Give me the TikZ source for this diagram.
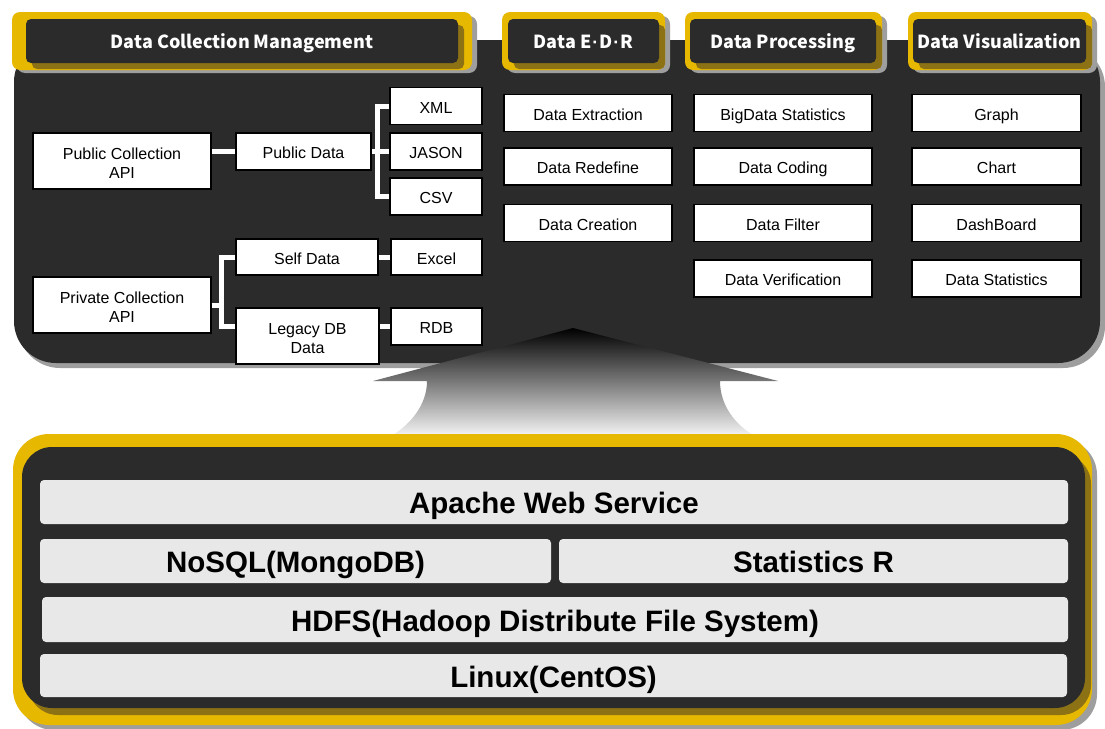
\documentclass[tikz,border=0pt]{standalone}
\usepackage{fontspec}
\setmainfont{Liberation Sans}
\newfontfamily\tabfont{Noto Sans CJK KR}
\newfontfamily\dotfont{Liberation Sans}
\usepackage{tikz}
\usetikzlibrary{calc,positioning}
\definecolor{panel}{HTML}{2B2B2B}
\definecolor{gold}{HTML}{E6B800}
\definecolor{olive}{HTML}{8C7214}
\definecolor{layer}{HTML}{E8E8E8}
\definecolor{panelshadow}{HTML}{9E9E9E}

\begin{document}
\begin{tikzpicture}[x=1pt,y=-1pt,
    box/.style={draw=black,line width=1.4pt,fill=white,inner sep=0pt,
      minimum width=#1,minimum height=37pt,align=center,
      text height=14.5pt,text depth=0pt,
      font=\fontsize{16}{19}\selectfont},
    box/.default=168,
    tall/.style={minimum height=56pt,text height=34pt,text depth=0pt},
    tab/.style={fill=panel,rounded corners=5pt,inner sep=0pt,minimum height=44pt,
      text height=14pt,text depth=0pt,
      text=white,font=\tabfont\bfseries\fontsize{18}{22}\selectfont},
    link/.style={draw=white,line width=5pt},
    layerbar/.style={fill=layer,rounded corners=4pt,inner sep=0pt,minimum height=44pt,
      text height=23.5pt,text depth=0pt,
      font=\bfseries\fontsize{29.5}{32}\selectfont}]
  \useasboundingbox (0,0) rectangle (1105,728);

  % upper panel
  \fill[panelshadow,rounded corners=42pt] (18,45) rectangle (1105,368);
  \fill[panel,rounded corners=42pt] (14,40) rectangle (1100,363);

  % tabs: name / outer left / outer right / inner left / inner right / text
  \foreach \nm/\xa/\xb/\xc/\xd/\txt in {coll/12/472/26/458/Data Collection Management,
      edr/502/665/508/659/{Data E{\dotfont\bfseries\kern1pt·\kern1pt}D{\dotfont\bfseries\kern1pt·\kern1pt}R},
      proc/685/882/690/876/Data Processing,
      vis/908/1092/913/1086/Data Visualization}{
    \fill[panelshadow,rounded corners=8pt] (\xa+5,16) rectangle (\xb+5,73);
    \fill[gold,rounded corners=8pt] (\xa,12) rectangle (\xb,70);
    \fill[olive,rounded corners=5pt] (\xc+6,25) rectangle (\xd+6,69);
    \node[tab,minimum width=\xd-\xc] (tab\nm) at ({(\xc+\xd)/2},41) {\txt};
  }

  % collection
  \node[box=178,tall] (pubapi) at (122,161) {Public Collection\\API};
  \node[box=135] (pubdata) at (303.5,151.5) {Public Data};
  \node[box=92] (xml) at (436,106) {XML};
  \node[box=92] (jason) at (436,151.5) {JASON};
  \node[box=92] (csv) at (436,196.5) {CSV};
  \node[box=178,tall] (privapi) at (122,305) {Private Collection\\API};
  \node[box=142,minimum height=36pt] (selfdata) at (307,257) {Self Data};
  \node[box=91,minimum height=36pt] (excel) at (436.5,257) {Excel};
  \node[box=143,tall] (legacy) at (307.5,336) {Legacy DB\\Data};
  \node[box=91] (rdb) at (436.5,326.5) {RDB};

  \draw[link] (pubapi.east |- pubdata.west) -- (pubdata.west);
  \draw[link] (pubdata.east) -- ++(6,0) coordinate (pubbus);
  \draw[link] (xml.west) -| (pubbus) |- (csv.west);
  \draw[link] (pubbus) -- (jason.west);
  \draw[link] (privapi.east) -- ++(10,0) coordinate (privbus);
  \draw[link] (selfdata.west) -| (privbus) |- (legacy.west |- rdb.west);
  \draw[link] (selfdata.east) -- (excel.west);
  \draw[link] (legacy.east |- rdb.west) -- (rdb.west);

  % E.D.R
  \node[box=168] (extract) at (588,113) {Data Extraction};
  \node[box=168] (redefine) at (588,166.5) {Data Redefine};
  \node[box=168] (create) at (588,223) {Data Creation};
  % processing
  \node[box=178] (bigstat) at (783,113) {BigData Statistics};
  \node[box=178] (coding) at (783,166.5) {Data Coding};
  \node[box=178] (filter) at (783,223) {Data Filter};
  \node[box=178] (verify) at (783,278.5) {Data Verification};
  % visualization
  \node[box=169] (graph) at (996.5,113) {Graph};
  \node[box=169] (chart) at (996.5,166.5) {Chart};
  \node[box=169] (dash) at (996.5,223) {DashBoard};
  \node[box=169] (datastat) at (996.5,278.5) {Data Statistics};

  % big arrow
  \shade[top color=black,bottom color=gray!8]
    (573,328) -- (778,381) -- (720,381)
    .. controls (720,405) and (735,425) .. (755,436) -- (391,436)
    .. controls (410,425) and (427,405) .. (427,381) -- (373,381) -- cycle;

  % lower panel
  \fill[panelshadow,rounded corners=36pt] (18,439) rectangle (1097,730);
  \fill[gold,rounded corners=36pt] (13,434) rectangle (1092,725);
  \fill[olive,rounded corners=30pt] (28,454) rectangle (1091,715);
  \fill[panel,rounded corners=30pt] (22,447) rectangle (1085,708);

  \node[layerbar,minimum width=1028pt] (apache) at (554,502) {Apache Web Service};
  \node[layerbar,minimum width=511pt] (nosql) at (295.5,561) {NoSQL(MongoDB)};
  \node[layerbar,minimum width=509pt] (statr) at (813.5,561) {Statistics R};
  \node[layerbar,minimum width=1026pt,minimum height=45pt] (hdfs) at (555,619.5) {HDFS(Hadoop Distribute File System)};
  \node[layerbar,minimum width=1027pt,minimum height=43pt] (linux) at (553.5,675.5) {Linux(CentOS)};
\end{tikzpicture}
\end{document}
